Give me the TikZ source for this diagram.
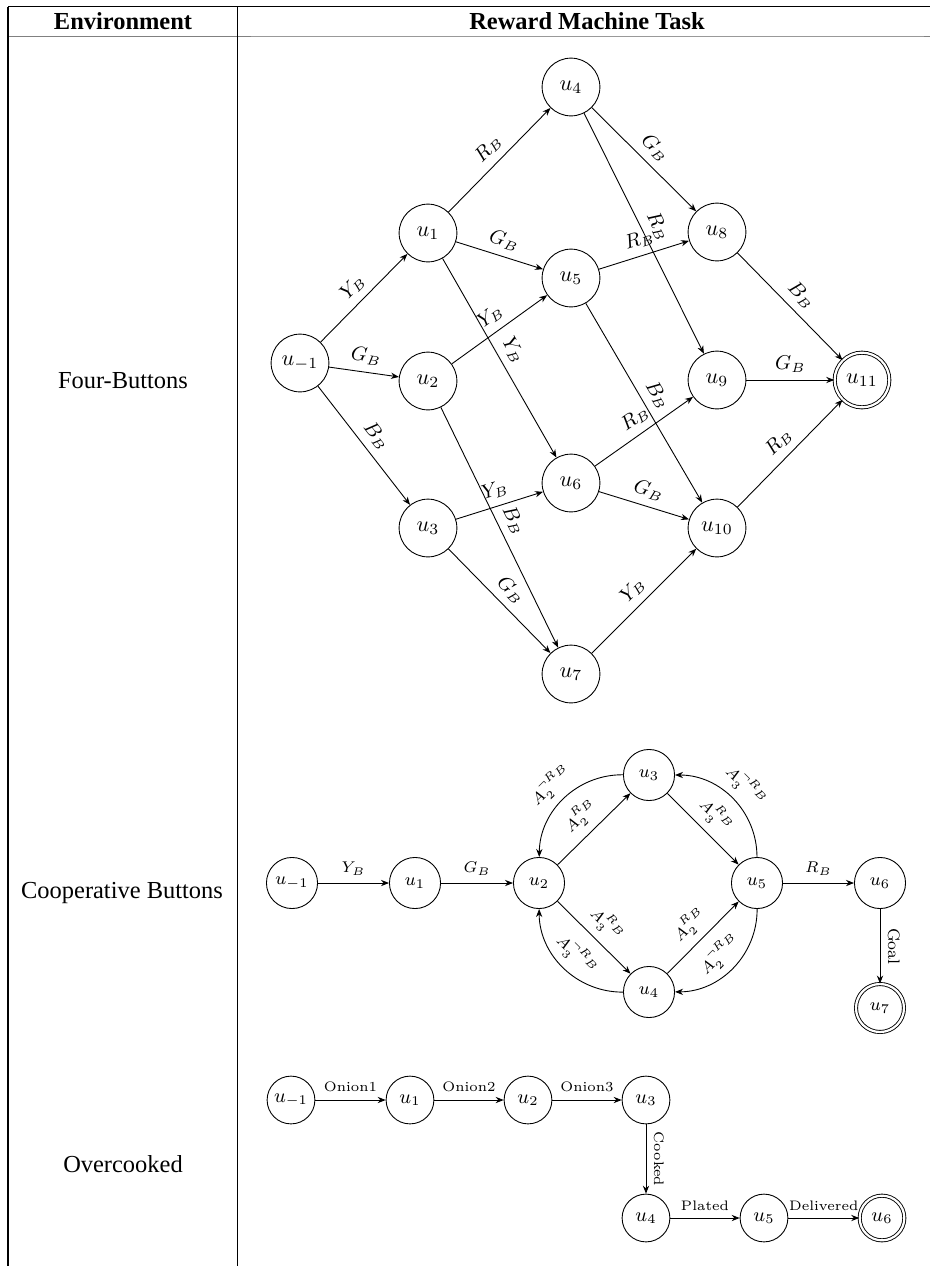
\documentclass[tikz,border=0pt]{standalone}
\usepackage{fontspec}
\newfontfamily\tabfont{LiberationSerif}[Extension=.ttf, UprightFont=*-Regular, BoldFont=*-Bold]
\usetikzlibrary{arrows.meta}

\tikzset{
    fbstate/.style={circle, draw, minimum size=26pt, inner sep=0pt, font=\fontsize{10}{12}\selectfont},
    fbfinal/.style={fbstate, double, double distance=1pt, minimum size=24.6pt},
    cbstate/.style={circle, draw, minimum size=23pt, inner sep=0pt, font=\fontsize{8}{10}\selectfont},
    cbfinal/.style={cbstate, double, double distance=1pt, minimum size=21.6pt},
    ocstate/.style={circle, draw, minimum size=21.5pt, inner sep=0pt, font=\fontsize{9}{11}\selectfont},
    ocfinal/.style={ocstate, double, double distance=1pt, minimum size=20.1pt},
    trans/.style={-{Stealth[length=3.6pt,width=2.8pt]}},
    fblab/.style={sloped, above, font=\fontsize{9}{11}\selectfont},
    cblab/.style={sloped, above, font=\fontsize{7.5}{9}\selectfont},
    oclab/.style={sloped, above, font=\fontsize{6.2}{7.5}\selectfont},
    tabhead/.style={font=\tabfont\bfseries\fontsize{11}{13}\selectfont},
    tabtext/.style={font=\tabfont\fontsize{11}{13}\selectfont},
}

\begin{document}
\begin{tikzpicture}[x=0.45pt, y=0.45pt]
        \useasboundingbox (0,0) rectangle (930,-1266);

        %table rules
        \draw[line width=0.6pt] (8,-6.5) -- (930,-6.5);
        \draw[gray, line width=0.7pt] (8,-36.5) -- (251,-36.5);
        \draw[gray!80, line width=0.45pt] (251,-36) -- (924,-36);
        \draw[gray, line width=0.7pt] (924,-36.5) -- (930,-36.5);
        \draw[line width=0.5pt] (8,-6.5) -- (8,-1266);
        \draw[line width=0.5pt] (237.5,-6.5) -- (237.5,-1266);

        %header
        \node[tabhead] (envhead)  at (123,-21) {Environment};
        \node[tabhead] (taskhead) at (587,-21) {Reward Machine Task};

        %row names
        \node[tabtext] (rowfour) at (123,-381)  {Four-Buttons};
        \node[tabtext] (rowcoop) at (122,-893)  {Cooperative Buttons};
        \node[tabtext] (rowover) at (123,-1164) {Overcooked};

        %---------------------
        %four buttons states
        \node[fbstate] (fbm1) at (300,-363) {$u_{-1}$};
        \node[fbstate] (fb1)  at (428,-233) {$u_1$};
        \node[fbstate] (fb2)  at (428,-381) {$u_2$};
        \node[fbstate] (fb3)  at (428,-528) {$u_3$};
        \node[fbstate] (fb4)  at (571,-87)  {$u_4$};
        \node[fbstate] (fb5)  at (571,-278) {$u_5$};
        \node[fbstate] (fb6)  at (571,-483) {$u_6$};
        \node[fbstate] (fb7)  at (571,-674) {$u_7$};
        \node[fbstate] (fb8)  at (717,-232) {$u_8$};
        \node[fbstate] (fb9)  at (717,-380) {$u_9$};
        \node[fbstate] (fb10) at (717,-528) {$u_{10}$};
        \node[fbfinal] (fb11) at (862,-380) {$u_{11}$};

        %four buttons transitions
        \draw[trans] (fbm1) -- node[fblab] {$Y_B$} (fb1);
        \draw[trans] (fbm1) -- node[fblab] {$G_B$} (fb2);
        \draw[trans] (fbm1) -- node[fblab] {$B_B$} (fb3);
        \draw[trans] (fb1) -- node[fblab] {$R_B$} (fb4);
        \draw[trans] (fb1) -- node[fblab] {$G_B$} (fb5);
        \draw[trans] (fb1) -- node[fblab] {$Y_B$} (fb6);
        \draw[trans] (fb2) -- node[fblab] {$Y_B$} (fb5);
        \draw[trans] (fb2) -- node[fblab] {$B_B$} (fb7);
        \draw[trans] (fb3) -- node[fblab] {$Y_B$} (fb6);
        \draw[trans] (fb3) -- node[fblab] {$G_B$} (fb7);
        \draw[trans] (fb4) -- node[fblab] {$G_B$} (fb8);
        \draw[trans] (fb4) -- node[fblab] {$R_B$} (fb9);
        \draw[trans] (fb5) -- node[fblab] {$R_B$} (fb8);
        \draw[trans] (fb5) -- node[fblab] {$B_B$} (fb10);
        \draw[trans] (fb6) -- node[fblab] {$R_B$} (fb9);
        \draw[trans] (fb6) -- node[fblab] {$G_B$} (fb10);
        \draw[trans] (fb7) -- node[fblab] {$Y_B$} (fb10);
        \draw[trans] (fb8) -- node[fblab] {$B_B$} (fb11);
        \draw[trans] (fb9) -- node[fblab] {$G_B$} (fb11);
        \draw[trans] (fb10) -- node[fblab] {$R_B$} (fb11);

        %---------------------
        %cooperative buttons states
        \node[cbstate] (cbm1) at (292,-883)  {$u_{-1}$};
        \node[cbstate] (cb1)  at (415,-883)  {$u_1$};
        \node[cbstate] (cb2)  at (539,-883)  {$u_2$};
        \node[cbstate] (cb3)  at (649,-775)  {$u_3$};
        \node[cbstate] (cb4)  at (649,-992)  {$u_4$};
        \node[cbstate] (cb5)  at (757,-883)  {$u_5$};
        \node[cbstate] (cb6)  at (880,-883)  {$u_6$};
        \node[cbfinal] (cb7)  at (880,-1008) {$u_7$};

        %cooperative buttons transitions
        \draw[trans] (cbm1) -- node[cblab] {$Y_B$} (cb1);
        \draw[trans] (cb1) -- node[cblab] {$G_B$} (cb2);
        \draw[trans] (cb2) -- node[cblab] {$A_2^{R_B}$} (cb3);
        \draw[trans] (cb3) to[bend right=45] node[cblab] {$A_2^{\neg R_B}$} (cb2);
        \draw[trans] (cb3) -- node[cblab] {$A_3^{R_B}$} (cb5);
        \draw[trans] (cb5) to[bend right=45] node[cblab] {$A_3^{\neg R_B}$} (cb3);
        \draw[trans] (cb2) -- node[cblab] {$A_3^{R_B}$} (cb4);
        \draw[trans] (cb4) to[bend left=45] node[cblab] {$A_3^{\neg R_B}$} (cb2);
        \draw[trans] (cb4) -- node[cblab] {$A_2^{R_B}$} (cb5);
        \draw[trans] (cb5) to[bend left=45] node[cblab] {$A_2^{\neg R_B}$} (cb4);
        \draw[trans] (cb5) -- node[cblab] {$R_B$} (cb6);
        \draw[trans] (cb6) -- node[cblab] {Goal} (cb7);

        %---------------------
        %overcooked states
        \node[ocstate] (ocm1) at (291,-1100) {$u_{-1}$};
        \node[ocstate] (oc1)  at (410,-1100) {$u_1$};
        \node[ocstate] (oc2)  at (528,-1100) {$u_2$};
        \node[ocstate] (oc3)  at (646,-1100) {$u_3$};
        \node[ocstate] (oc4)  at (646,-1218) {$u_4$};
        \node[ocstate] (oc5)  at (764,-1218) {$u_5$};
        \node[ocfinal] (oc6)  at (882,-1218) {$u_6$};

        %overcooked transitions
        \draw[trans] (ocm1) -- node[oclab] {Onion1} (oc1);
        \draw[trans] (oc1) -- node[oclab] {Onion2} (oc2);
        \draw[trans] (oc2) -- node[oclab] {Onion3} (oc3);
        \draw[trans] (oc3) -- node[oclab] {Cooked} (oc4);
        \draw[trans] (oc4) -- node[oclab] {Plated} (oc5);
        \draw[trans] (oc5) -- node[oclab] {Delivered} (oc6);

\end{tikzpicture}
\end{document}
